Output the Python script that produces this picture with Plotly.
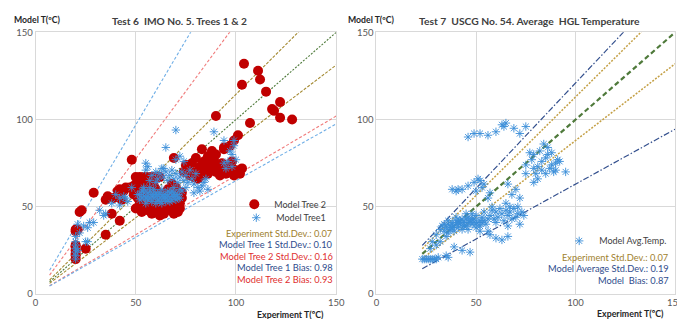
import plotly.graph_objects as go

# ---------------- data: Test 6 (left) ----------------
tree2_x = [20, 20, 20, 20, 20, 20, 20, 20, 21, 22, 23, 25, 29, 35, 35, 36, 38, 39, 41, 42, 42, 44, 45, 47, 43, 49, 48,
           50, 51, 52, 53, 54, 55, 56, 57, 58, 59, 60, 61, 62, 63, 64, 65, 66, 67, 68, 69, 70, 71, 72, 73, 55, 60, 65, 70, 58, 62,
           50, 52, 54, 56, 58, 60, 62, 52, 57, 63, 67, 71, 53, 61,
           49, 50, 51, 53, 56, 59, 61, 63, 64, 66, 67, 69, 71, 72, 73, 52, 55, 58, 68, 70,
           74, 76, 77, 78, 80, 82, 83, 84, 85, 86, 87, 88, 89, 90, 91, 92, 93, 94, 95, 96, 97, 98, 99, 100, 101, 102, 103,
           69, 75, 79, 81, 80, 83, 88, 94, 90, 86, 98,
           90, 97, 94, 99, 101, 107, 104, 111, 112, 103, 115, 122, 118, 119, 122, 128]
tree2_y = [37, 36, 28, 27, 25, 23, 22, 20, 37, 47, 48, 26, 58, 54, 34, 56, 46, 55, 59, 60, 42, 59, 61, 61, 54, 62, 77,
           58, 55, 52, 60, 50, 56, 48, 53, 59, 47, 51, 55, 49, 57, 46, 52, 60, 48, 54, 50, 56, 47, 52, 58, 61, 60, 58, 61, 46, 45,
           67, 67, 67, 67, 67, 67, 67, 49, 50, 53, 57, 51, 57, 58,
           57, 49, 61, 47, 61, 62, 47, 49, 54, 50, 56, 46, 53, 49, 55, 64, 64, 63, 63, 59,
           70, 72, 68, 75, 70, 73, 68, 76, 71, 69, 74, 72, 77, 70, 73, 68, 75, 71, 69, 73, 70, 72, 68, 71, 70, 69, 72,
           78, 74, 67, 66, 78, 83, 82, 84, 80, 79, 76,
           102, 85, 83, 88, 91, 98, 132, 128, 123, 120, 116, 110, 106, 105, 101, 100]

tree1_x = [20, 20, 20, 20, 20, 20, 20, 21, 21, 24, 26, 25, 22, 29, 32, 34, 35, 27, 26, 38, 44, 46, 40, 42, 42, 45, 48, 54,
           51, 52, 53, 54, 55, 56, 57, 58, 59, 60, 61, 62, 63, 64, 65, 66, 67, 68, 69, 70, 71, 72, 73, 54, 57, 60, 63, 66, 69,
           56, 59, 62, 65, 68, 72, 75,
           52, 53, 55, 56, 58, 59, 61, 62, 64, 65, 67, 68, 70, 71, 60, 63, 66, 69, 57, 54,
           55, 58, 60, 61, 62, 63, 64, 65, 66, 67, 68, 69, 70, 71, 72, 73, 74, 75, 76, 77, 78, 79, 80, 60, 57,
           83, 86, 84, 85, 82, 79, 81,
           55, 64, 56, 70, 72, 74, 94, 96, 98, 95, 100, 97, 99, 94, 89, 99, 70, 65, 98]
tree1_y = [20, 22, 24, 26, 28, 30, 33, 25, 40, 39, 38, 30, 35, 41, 48, 45, 46, 41, 30, 52, 56, 53, 57, 51, 55, 55, 61, 61,
           57, 54, 59, 56, 52, 58, 55, 53, 60, 56, 54, 58, 52, 57, 55, 59, 53, 56, 58, 54, 57, 55, 59, 60, 61, 52, 60, 54, 61,
           56, 57, 55, 57, 59, 60, 61,
           57, 55, 55, 54, 57, 55, 57, 53, 55, 53, 58, 54, 57, 55, 58, 56, 56, 56, 59, 58,
           71, 68, 70, 66, 69, 72, 67, 70, 65, 68, 71, 66, 69, 64, 67, 70, 65, 68, 64, 71, 66, 63, 69, 64, 65,
           62, 60, 64, 66, 59, 58, 61,
           75, 72, 73, 77, 79, 76, 75, 76, 73, 72, 77, 82, 88, 88, 93, 85, 94, 84, 80]

# reference lines (Test 6): slope, x-start, x-end
left_slopes = [1.0, 1.145, 0.875, 1.55, 0.68, 1.94, 0.65]
left_colors = ["#4E7A3A", "#A48A32", "#A48A32", "#F07A7A", "#F07A7A", "#6FAEE6", "#6FAEE6"]
left_dash = ["2px,1.5px", "3px,1.5px", "3px,1.5px", "3px,2px", "3px,2px", "3px,2px", "3px,2px"]
left_x0, left_x1 = 7, 150

# ---------------- data: Test 7 (right) ----------------
avg_x = [46, 49, 52, 56, 60, 63, 65, 69, 72, 75, 64,
         38, 40, 41, 43, 46, 49, 50, 52, 53, 54, 51, 56, 57,
         23, 24, 25, 26, 27, 28, 29, 30, 31, 36, 35,
         27, 28, 30, 32, 33, 34, 35, 36, 37, 38, 39, 40, 41, 42, 43, 44, 45, 46, 47, 48, 49, 50, 51, 52, 53, 54, 55,
         50, 46, 43, 39, 36, 52, 48, 45, 40, 54, 56, 41, 44, 47, 38, 42,
         34, 36, 38, 40, 42, 44, 46, 48, 50, 52, 37, 41, 45, 49, 53,
         35, 39, 43, 47, 57, 60, 63, 66, 56, 30, 32,
         57, 58, 59, 60, 61, 62, 63, 64, 65, 66, 67, 68, 69, 70, 71, 72, 73, 74, 66, 60, 58, 67,
         66, 68, 65, 70, 72, 71,
         75, 75, 77, 79, 79, 80, 81, 82, 83, 84, 85, 86, 87, 88, 89, 90, 91, 92, 95, 79, 85, 81, 83, 78, 86, 88, 90]
avg_y = [90, 92, 92, 91, 93, 97, 98, 95, 92, 96, 96,
         60, 59, 60, 60, 62, 64, 59, 65, 61, 63, 66, 55, 58,
         20, 20, 20, 20, 20, 20, 20, 20, 21, 21, 22,
         26, 30, 34, 37, 39, 36, 38, 40, 37, 41, 39, 42, 38, 40, 43, 41, 39, 44, 42, 40, 43, 45, 41, 39, 44, 42, 40,
         38, 37, 37, 36, 35, 36, 46, 46, 44, 47, 43, 41, 39, 41, 38, 42,
         40, 42, 38, 40, 42, 39, 41, 43, 40, 42, 39, 41, 43, 41, 41,
         33, 27, 25, 24, 34, 32, 31, 33, 36, 28, 30,
         45, 48, 43, 47, 44, 49, 46, 42, 48, 45, 47, 43, 49, 44, 46, 40, 47, 45, 39, 41, 50, 50,
         63, 57, 52, 60, 55, 50,
         69, 74, 81, 80, 72, 69, 73, 82, 76, 86, 78, 84, 72, 81, 70, 75, 77, 76, 70, 64, 69, 66, 71, 77, 80, 74, 71]

right_slopes = [1.0, 1.13, 0.88, 1.21, 0.63]
right_colors = ["#4F7A3B", "#C4A046", "#C4A046", "#34508E", "#34508E"]
right_dash = ["5px,3px", "2px,1.5px", "2px,1.5px", "6px,2px,1.5px,2px", "6px,2px,1.5px,2px"]
right_width = [2.2, 1.5, 1.5, 1.2, 1.2]
right_x0, right_x1 = 23, 150

# ---------------- texts ----------------
left_title = "Test 6  IMO No. 5. Trees 1 &amp; 2"
right_title = "Test 7  USCG No. 54. Average  HGL Temperature"
y_title = "Model T(ºC)"
x_title = "Experiment T(ºC)"
left_stats = [("Experiment Std.Dev.: 0.07", "#A0812E"),
              ("Model Tree 1 Std.Dev.: 0.10", "#2F4C8C"),
              ("Model Tree 2 Std.Dev.: 0.16", "#E0302F"),
              ("Model Tree 1 Bias: 0.98", "#2F4C8C"),
              ("Model Tree 2 Bias: 0.93", "#E0302F")]
right_stats = [("Experiment Std.Dev.: 0.07", "#A0812E"),
               ("Model Average Std.Dev.: 0.19", "#2F4C8C"),
               ("Model  Bias: 0.87", "#2F4C8C")]

W, H = 685, 319
FONT = "Lato, 'Open Sans', sans-serif"
BLUE = "#3A8DD8"


def px(x):
    return x / W


def py(y):
    return 1 - y / H


fig = go.Figure()

# reference lines left
for k, c, d in zip(left_slopes, left_colors, left_dash):
    fig.add_trace(go.Scatter(x=[left_x0, left_x1], y=[left_x0 * k, left_x1 * k], mode="lines",
                             line=dict(color=c, width=1.1, dash=d),
                             showlegend=False, hoverinfo="skip", xaxis="x", yaxis="y"))

fig.add_trace(go.Scatter(x=tree2_x, y=tree2_y, mode="markers", name="Model Tree 2",
                         marker=dict(symbol="circle", size=10, color="#C00000"),
                         xaxis="x", yaxis="y", legend="legend"))
fig.add_trace(go.Scatter(x=tree1_x, y=tree1_y, mode="markers", name="Model Tree1",
                         marker=dict(symbol="asterisk-open", size=7, color=BLUE, line=dict(color=BLUE, width=0.9)),
                         xaxis="x", yaxis="y", legend="legend2"))

# reference lines right
for k, c, d, w in zip(right_slopes, right_colors, right_dash, right_width):
    fig.add_trace(go.Scatter(x=[right_x0, right_x1], y=[right_x0 * k, right_x1 * k], mode="lines",
                             line=dict(color=c, width=w, dash=d),
                             showlegend=False, hoverinfo="skip", xaxis="x2", yaxis="y2"))

fig.add_trace(go.Scatter(x=avg_x, y=avg_y, mode="markers", name="Model Avg.Temp.",
                         marker=dict(symbol="asterisk-open", size=7, color=BLUE, line=dict(color=BLUE, width=0.9)),
                         xaxis="x2", yaxis="y2", legend="legend3"))

axis_common = dict(range=[0, 150], dtick=50, showgrid=True, gridcolor="#D9D9D9", gridwidth=1,
                   showline=True, mirror=True, linecolor="#D9D9D9", zeroline=False, ticks="",
                   tickfont=dict(family=FONT, size=9.5, color="#595959"), fixedrange=True)

ydom = [py(290), py(19)]
leg_font = dict(family=FONT, size=9, color="#404040")
fig.update_layout(
    width=W, height=H, margin=dict(l=0, r=0, t=0, b=0),
    paper_bgcolor="white", plot_bgcolor="white",
    font=dict(family=FONT),
    xaxis=dict(domain=[px(25), px(331)], anchor="y", **axis_common),
    yaxis=dict(domain=ydom, anchor="x", **axis_common),
    xaxis2=dict(domain=[px(372), px(676)], anchor="y2", **axis_common),
    yaxis2=dict(domain=ydom, anchor="x2", **axis_common),
    legend=dict(x=px(326), y=py(197), xanchor="right", yanchor="middle", bgcolor="rgba(0,0,0,0)", font=leg_font),
    legend2=dict(x=px(326), y=py(211), xanchor="right", yanchor="middle", bgcolor="rgba(0,0,0,0)", font=leg_font),
    legend3=dict(x=px(673), y=py(235), xanchor="right", yanchor="middle", bgcolor="rgba(0,0,0,0)", font=leg_font),
)

ann = []
ann.append(dict(text="<b>" + left_title + "</b>", x=px(172), y=py(7), font=dict(size=10.2, color="#404040")))
ann.append(dict(text="<b>" + right_title + "</b>", x=px(528), y=py(7), font=dict(size=10.3, color="#404040")))
ann.append(dict(text="<b>" + y_title + "</b>", x=px(1), y=py(6), xanchor="left", font=dict(size=8.7, color="#262626")))
ann.append(dict(text="<b>" + y_title + "</b>", x=px(341), y=py(6), xanchor="left", font=dict(size=8.7, color="#262626")))
ann.append(dict(text="<b>" + x_title + "</b>", x=px(284), y=py(311), font=dict(size=8.8, color="#262626")))
ann.append(dict(text="<b>" + x_title + "</b>", x=px(631), y=py(310), font=dict(size=8.8, color="#262626")))
for i, (t, c) in enumerate(left_stats):
    ann.append(dict(text=t, x=px(330), y=py(227 + i * 11.9), xanchor="right", font=dict(size=9.3, color=c)))
for i, (t, c) in enumerate(right_stats):
    ann.append(dict(text=t, x=px(672), y=py(252 + i * 12), xanchor="right", font=dict(size=9.3, color=c)))
for a in ann:
    a.setdefault("xanchor", "center")
    a.update(xref="paper", yref="paper", yanchor="middle", showarrow=False)
    a["font"]["family"] = FONT
fig.update_layout(annotations=ann)

fig.write_html("out.html")
